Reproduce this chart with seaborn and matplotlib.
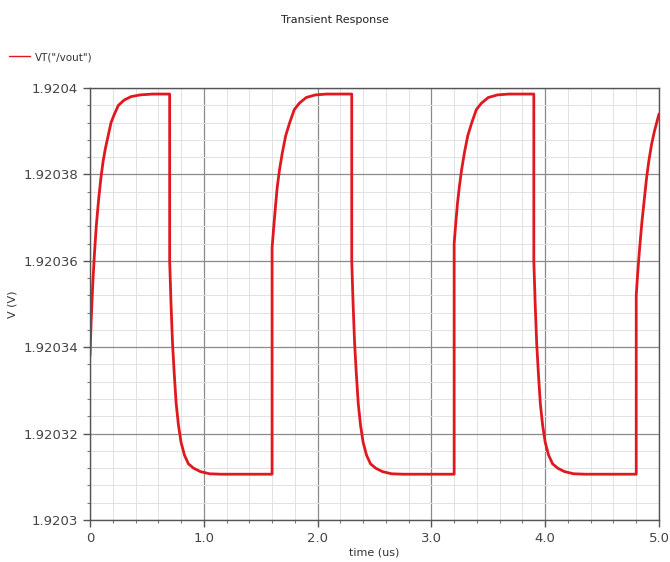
import numpy as np
import pandas as pd
import matplotlib
matplotlib.use("Agg")
import matplotlib.pyplot as plt
from matplotlib.ticker import MultipleLocator, FuncFormatter
import seaborn as sns

# waveform points (time in us, voltage in V)
time_us = [
    # first rise
    0.000, 0.010, 0.025, 0.040, 0.055, 0.075, 0.095, 0.115, 0.135, 0.160, 0.185, 0.215, 0.250,
    0.300, 0.360, 0.440, 0.550,
    # first fall
    0.700, 0.700, 0.712, 0.725, 0.740, 0.757, 0.777, 0.800, 0.830, 0.865, 0.910, 0.970, 1.050, 1.150,
    # second rise
    1.600, 1.600, 1.612, 1.628, 1.645, 1.665, 1.690, 1.720, 1.755, 1.795, 1.840, 1.900, 1.980, 2.080,
    # second fall
    2.300, 2.300, 2.312, 2.325, 2.340, 2.357, 2.377, 2.400, 2.430, 2.465, 2.510, 2.570, 2.650, 2.750,
    # third rise
    3.200, 3.200, 3.212, 3.228, 3.245, 3.265, 3.290, 3.320, 3.355, 3.395, 3.440, 3.500, 3.580, 3.680,
    # third fall
    3.900, 3.900, 3.912, 3.925, 3.940, 3.957, 3.977, 4.000, 4.030, 4.065, 4.110, 4.170, 4.250, 4.350,
    # last rise
    4.800, 4.800, 4.815, 4.830, 4.850, 4.870, 4.890, 4.910, 4.935, 4.960, 4.980, 5.000]
vout = [
    1.920338, 1.920346, 1.920355, 1.920362, 1.920368, 1.920374, 1.920379, 1.920383, 1.920386, 1.920389, 1.920392, 1.920394, 1.920396,
    1.9203972, 1.920398, 1.9203984, 1.9203986,
    1.9203986, 1.920360, 1.920350, 1.920341, 1.920334, 1.920327, 1.920322, 1.920318, 1.920315, 1.920313, 1.920312, 1.9203112, 1.9203107, 1.9203106,
    1.9203106, 1.920363, 1.920367, 1.920372, 1.920377, 1.920381, 1.920385, 1.920389, 1.920392, 1.920395, 1.9203965, 1.9203978, 1.9203984, 1.9203986,
    1.9203986, 1.920360, 1.920350, 1.920341, 1.920334, 1.920327, 1.920322, 1.920318, 1.920315, 1.920313, 1.920312, 1.9203112, 1.9203107, 1.9203106,
    1.9203106, 1.920364, 1.920368, 1.920373, 1.920377, 1.920381, 1.920385, 1.920389, 1.920392, 1.920395, 1.9203965, 1.9203978, 1.9203984, 1.9203986,
    1.9203986, 1.920360, 1.920350, 1.920341, 1.920334, 1.920327, 1.920322, 1.920318, 1.920315, 1.920313, 1.920312, 1.9203112, 1.9203107, 1.9203106,
    1.9203106, 1.920352, 1.920358, 1.920363, 1.920369, 1.920374, 1.920379, 1.920383, 1.920387, 1.920390, 1.920392, 1.920394]

x_ticks = [0, 1, 2, 3, 4, 5]
x_tick_labels = ['0', '1.0', '2.0', '3.0', '4.0', '5.0']
y_lim = [1.9203, 1.9204]
series_name = 'VT("/vout")'

df = pd.DataFrame({'time': time_us, 'v': vout, 'sig': series_name})

sns.set_style("white")
plt.rcParams['font.family'] = ['DejaVu Sans']

fig = plt.figure(figsize=(6.7, 5.62), dpi=100)
ax = fig.add_axes([90 / 670, 1 - 520 / 562, 569 / 670, 432 / 562])

sns.lineplot(data=df, x='time', y='v', hue='sig', palette=['#e01820'],
             estimator=None, sort=False, linewidth=2, ax=ax, legend=False)

ax.set_xlim(0, 5)
ax.set_ylim(*y_lim)
ax.set_xticks(x_ticks)
ax.set_xticklabels(x_tick_labels)
ax.xaxis.set_minor_locator(MultipleLocator(0.2))
ax.yaxis.set_major_locator(MultipleLocator(0.00002))
ax.yaxis.set_minor_locator(MultipleLocator(0.000004))
ax.yaxis.set_major_formatter(FuncFormatter(lambda v, p: '{:g}'.format(round(v, 6))))
ax.yaxis.get_offset_text().set_visible(False)

ax.grid(which='major', color='#8a8a8a', linewidth=0.9)
ax.grid(which='minor', color='#e2e2e2', linewidth=0.7)
ax.set_axisbelow(True)
for s in ax.spines.values():
    s.set_color('#555555')
    s.set_linewidth(1)

ax.tick_params(which='major', direction='out', length=5, width=1, color='#555555',
               labelsize=9.5, labelcolor='#444444', left=True, bottom=True)
ax.tick_params(which='minor', direction='out', length=2.5, width=0.8, color='#777777',
               left=True, bottom=True)

ax.set_xlabel('time (us)', fontsize=8, color='#333333', labelpad=2)
ax.set_ylabel('V (V)', fontsize=8, color='#333333')
ax.yaxis.set_label_coords(-0.128, 0.5)

fig.text(0.5, 1 - 20 / 562, 'Transient Response', ha='center', va='center',
         fontsize=8, color='#222222')
fig.legend(handles=[plt.Line2D([], [], color='#e01820', linewidth=1)], labels=[series_name],
           loc='center left', bbox_to_anchor=(0.0, 1 - 57 / 562), frameon=False,
           fontsize=7.5, handlelength=2, handletextpad=0.5, labelcolor='#333333')

fig.savefig('out.png', dpi=100)
